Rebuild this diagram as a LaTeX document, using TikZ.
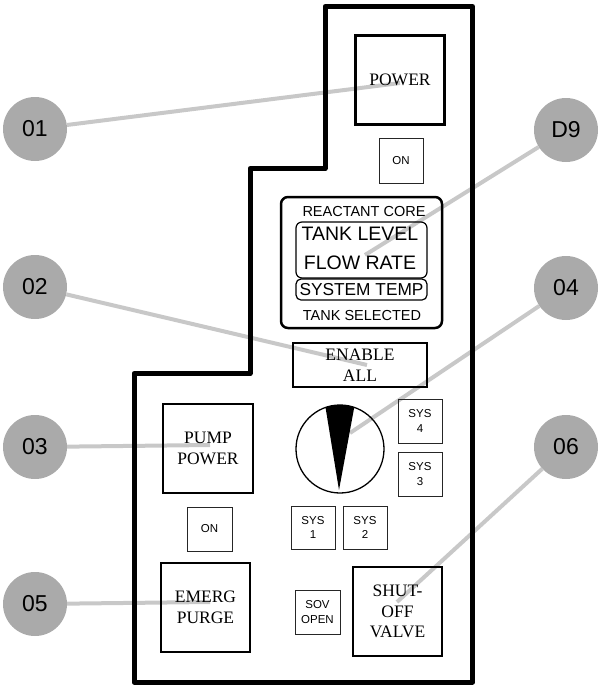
\documentclass[tikz,border=0pt]{standalone}
\usepackage{fontspec}
\setmainfont{Liberation Serif}
\newfontfamily\arial{Liberation Sans}
\definecolor{calloutgray}{RGB}{170,170,170}
\definecolor{leadergray}{RGB}{200,200,200}
\pgfdeclarelayer{bg}
\pgfsetlayers{bg,main}
\begin{document}
\begin{tikzpicture}[x=1pt,y=-1pt,
  bigbox/.style={draw, line width=2.2pt, minimum width=89pt, minimum height=89pt, inner sep=0pt, align=center, font=\fontsize{17.5}{20.5}\selectfont},
  smallbox/.style={draw=black!85, line width=1pt, minimum width=44pt, minimum height=44pt, inner sep=0pt, align=center, font=\arial\fontsize{11.5}{14.5}\selectfont},
  callout/.style={circle, fill=calloutgray, minimum size=64pt, inner sep=0pt, font=\arial\fontsize{23}{23}\selectfont},
  leader/.style={draw=leadergray, line width=4pt},
  disptext/.style={inner sep=0pt, font=\arial\fontsize{14.5}{14.5}\selectfont}]
\useasboundingbox (0,0) rectangle (598,686);
% panel outline
\draw[line width=5pt, line join=round] (325,6.5) -- (472.5,6.5) -- (472.5,682) -- (134,682) -- (134,373.5) -- (250,373.5) -- (250,168.5) -- (325,168.5) -- cycle;
% controls
\node[bigbox] (power) at (400,80) {POWER};
\node[smallbox, minimum height=45pt] (on1) at (401,160.5) {ON};
\node[draw, line width=2.5pt, rounded corners=7pt, minimum width=161pt, minimum height=131pt, inner sep=0pt] (display) at (361.5,262.5) {};
\node[draw, line width=1.2pt, rounded corners=6pt, minimum width=131pt, minimum height=56pt, inner sep=0pt] (tankbox) at (361.5,250) {};
\node[draw, line width=1.2pt, rounded corners=5pt, minimum width=131pt, minimum height=21pt, inner sep=0pt] (tempbox) at (361.5,289.5) {};
\node[disptext] (reactant) at (364,212) {REACTANT CORE};
\node[disptext, font=\arial\fontsize{19.5}{19.5}\selectfont] (tanklevel) at (360,234) {TANK LEVEL};
\node[disptext, font=\arial\fontsize{19.5}{19.5}\selectfont] (flowrate) at (360,263) {FLOW RATE};
\node[disptext, font=\arial\fontsize{17.3}{17.3}\selectfont] (systemp) at (361.5,290) {SYSTEM TEMP};
\node[disptext] (tanksel) at (362,316) {TANK SELECTED};
\node[bigbox, minimum width=134pt, minimum height=44pt, line width=2pt] (enable) at (360,365) {ENABLE\\ALL};
\node[bigbox, minimum height=89pt, minimum width=90pt] (pump) at (208,448.5) {PUMP\\POWER};
% dial
\begin{scope}
  \clip (340,449) circle (44pt);
  \fill (339,490) -- (323.5,395) -- (356.5,395) -- cycle;
\end{scope}
\node[circle, draw, line width=1.3pt, minimum size=88pt, inner sep=0pt] (dial) at (340,449) {};
\node[smallbox] (sys4) at (420,421) {SYS\\4};
\node[smallbox] (sys3) at (420,474) {SYS\\3};
\node[smallbox, minimum height=43pt] (sys1) at (313,527.5) {SYS\\1};
\node[smallbox, minimum height=43pt] (sys2) at (365,527.5) {SYS\\2};
\node[smallbox, minimum width=45pt] (on2) at (209.5,529) {ON};
\node[bigbox] (emerg) at (205.5,607.5) {EMERG\\PURGE};
\node[smallbox, minimum width=45pt] (sov) at (317.5,612) {SOV\\OPEN};
\node[bigbox] (shutoff) at (397.5,611.5) {SHUT-\\OFF\\VALVE};
% callouts
\node[callout] (n01) at (35,129) {01};
\node[callout] (nD9) at (566,130) {D9};
\node[callout] (n02) at (35,287) {02};
\node[callout] (n04) at (566,288) {04};
\node[callout] (n03) at (35,447) {03};
\node[callout] (n06) at (566,447) {06};
\node[callout] (n05) at (35,604) {05};
\coordinate (c01) at (400,83);
\coordinate (cD9) at (365,255);
\coordinate (c02) at (367,365);
\coordinate (c04) at (350,433);
\coordinate (c03) at (210,445);
\coordinate (c06) at (397,602);
\coordinate (c05) at (210,602);
\begin{pgfonlayer}{bg}
\draw[leader] (n01) -- (c01);
\draw[leader] (nD9) -- (cD9);
\draw[leader] (n02) -- (c02);
\draw[leader] (n04) -- (c04);
\draw[leader] (n03) -- (c03);
\draw[leader] (n06) -- (c06);
\draw[leader] (n05) -- (c05);
\end{pgfonlayer}
\end{tikzpicture}
\end{document}
